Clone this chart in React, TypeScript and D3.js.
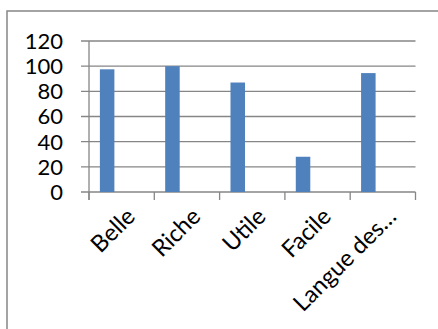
import React from "react";
import * as d3 from "d3";

const categories = ["Belle", "Riche", "Utile", "Facile", "Langue des…"];
const values = [97.5, 100, 87, 28, 94.5];
const seriesSlots = ["s1", "s2", "s3"];
const yTicks = [0, 20, 40, 60, 80, 100, 120];

const W = 438;
const H = 329;
const plot = { left: 89, right: 415.5, top: 41, bottom: 192 };
const FONT = "Lato, 'Open Sans', sans-serif";

export default function App() {
  const x = d3
    .scaleBand<string>()
    .domain(categories)
    .range([plot.left, plot.right])
    .paddingInner(0)
    .paddingOuter(0);
  // Excel clustered layout: 3 series slots with 150% gap width
  const inner = d3
    .scaleBand<string>()
    .domain(seriesSlots)
    .range([0, x.bandwidth()])
    .paddingInner(0)
    .paddingOuter(0.75);
  const y = d3.scaleLinear().domain([0, 120]).range([plot.bottom, plot.top]);
  const grid = "#868686";
  const boundaries = [...categories.map((c) => x(c)!), plot.right];

  return (
    <svg
      width={W}
      height={H}
      style={{ position: "absolute", left: 0, top: 0, background: "#fff" }}
    >
      <rect x={7} y={11} width={W} height={H} fill="#fff" stroke={grid} strokeWidth={1.5} />
      {yTicks.map((t) => (
        <g key={t}>
          <line x1={81} x2={plot.right} y1={y(t)} y2={y(t)} stroke={grid} strokeWidth={1.3} />
          <text
            x={63}
            y={y(t)}
            dy="0.36em"
            textAnchor="end"
            fontFamily={FONT}
            fontSize={22}
            fill="#000"
          >
            {t}
          </text>
        </g>
      ))}
      <line x1={plot.left} x2={plot.left} y1={plot.top} y2={plot.bottom + 8} stroke={grid} strokeWidth={1.3} />
      {boundaries.map((b, i) => (
        <line key={i} x1={b} x2={b} y1={plot.bottom} y2={plot.bottom + 8} stroke={grid} strokeWidth={1.3} />
      ))}
      {categories.map((c, i) => (
        <rect
          key={c}
          x={x(c)! + inner("s1")!}
          y={y(values[i])}
          width={inner.bandwidth()}
          height={plot.bottom - y(values[i])}
          fill="#4F81BD"
        />
      ))}
      {categories.map((c) => {
        const cx = x(c)! + x.bandwidth() / 2;
        return (
          <text
            key={c}
            transform={`translate(${cx + 3},${206}) rotate(-45)`}
            textAnchor="end"
            dy="0.72em"
            fontFamily={FONT}
            fontSize={23.5}
            fill="#000"
          >
            {c}
          </text>
        );
      })}
    </svg>
  );
}
